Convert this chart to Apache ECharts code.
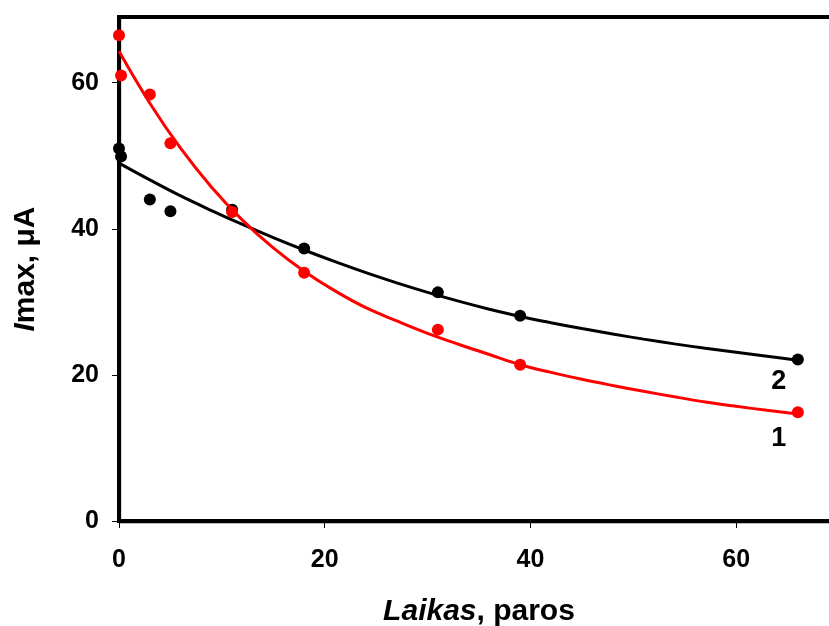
<!DOCTYPE html>
<html>
<head>
<meta charset="utf-8">
<script src="https://cdn.jsdelivr.net/npm/echarts@6/dist/echarts.min.js"></script>
<style>
html,body{margin:0;padding:0;background:#fff;}
#chart{width:829px;height:626px;}
</style>
</head>
<body>
<div id="chart"></div>
<script>
// Measured points (x: days, y: Imax µA)
const red_x = [0, 0.2, 3, 5, 11, 18, 31, 39, 66];
const red_y = [66.5, 61.0, 58.4, 51.7, 42.3, 34.0, 26.2, 21.4, 14.9];
const black_x = [0, 0.2, 3, 5, 11, 18, 31, 39, 66];
const black_y = [51.0, 49.9, 44.0, 42.4, 42.6, 37.3, 31.3, 28.1, 22.1];
// Fitted curves
const fit_x = [0, 3, 6, 9, 12, 15, 18, 21, 24, 27, 30, 33, 36, 39, 42, 45, 48, 51, 54, 57, 60, 63, 66];
const redFit_y = [64.3, 57.2, 51.0, 45.7, 41.2, 37.4, 34.2, 31.5, 29.2, 27.4, 25.7, 24.2, 22.8, 21.4, 20.35, 19.4, 18.55, 17.75, 17.0, 16.3, 15.7, 15.15, 14.65];
const blackFit_y = [49.0, 46.7, 44.5, 42.5, 40.6, 38.8, 37.1, 35.5, 34.0, 32.6, 31.3, 30.1, 29.0, 28.0, 27.15, 26.35, 25.6, 24.9, 24.25, 23.65, 23.1, 22.55, 22.0];
const xTicks = [0, 20, 40, 60];
const yTicks = [0, 20, 40, 60];
const seriesNames = ['1', '2'];

const zip = (xs, ys) => xs.map((x, i) => [x, ys[i]]);
const FONT = "'Liberation Sans', Arial, sans-serif";

function pts(xs, ys, name) {
  return zip(xs, ys).map((p, i) => {
    if (i === xs.length - 1) {
      return {value: p, label: {show: true, formatter: name, position: 'bottom',
        offset: [-19, name === '1' ? 2 : -3], fontSize: 27, fontWeight: 'bold', color: '#000', opacity: 1, fontFamily: FONT}};
    }
    return p;
  });
}

const chart = echarts.init(document.getElementById('chart'), null, {renderer: 'canvas'});
chart.setOption({
  animation: false,
  backgroundColor: '#fff',
  grid: {left: 119, top: 17, width: 720, height: 504, outerBoundsMode: 'none', containLabel: false,
    show: true, borderColor: '#000', borderWidth: 4, backgroundColor: 'transparent'},
  xAxis: {
    type: 'value', min: 0, max: 70, interval: 20,
    name: '{i|Laikas}{n|, paros}', nameLocation: 'middle', nameGap: 76,
    nameTextStyle: {rich: {
      i: {fontStyle: 'italic', fontWeight: 'bold', fontSize: 30, fontFamily: FONT, color: '#000'},
      n: {fontWeight: 'bold', fontSize: 30, fontFamily: FONT, color: '#000'}}},
    axisLine: {show: true, onZero: false, lineStyle: {color: '#000', width: 3.3}},
    axisTick: {show: true, inside: false, length: 7, customValues: xTicks, lineStyle: {color: '#000', width: 1}},
    axisLabel: {customValues: xTicks, margin: 27, fontSize: 25, fontWeight: 'bold', color: '#000', fontFamily: FONT},
    splitLine: {show: false}
  },
  yAxis: {
    type: 'value', min: 0, max: 69, interval: 20,
    name: '{i|I}{n|max, μA}', nameLocation: 'middle', nameGap: 78, nameRotate: 90,
    nameTextStyle: {rich: {
      i: {fontStyle: 'italic', fontWeight: 'bold', fontSize: 30, fontFamily: FONT, color: '#000'},
      n: {fontWeight: 'bold', fontSize: 30, fontFamily: FONT, color: '#000'}}},
    axisLine: {show: true, onZero: false, lineStyle: {color: '#000', width: 3.3}},
    axisTick: {show: true, inside: false, length: 7, customValues: yTicks, lineStyle: {color: '#000', width: 1}},
    axisLabel: {customValues: yTicks, margin: 20, fontSize: 25, fontWeight: 'bold', color: '#000', fontFamily: FONT},
    splitLine: {show: false}
  },
  series: [
    {type: 'line', name: 'fit2', data: zip(fit_x, blackFit_y), smooth: 0.4, showSymbol: false,
      lineStyle: {color: '#000', width: 3}, z: 2, silent: true},
    {type: 'scatter', name: seriesNames[1], data: pts(black_x, black_y, seriesNames[1]), symbol: 'circle', symbolSize: 12,
      itemStyle: {color: '#000', opacity: 1}, z: 3},
    {type: 'line', name: 'fit1', data: zip(fit_x, redFit_y), smooth: 0.4, showSymbol: false,
      lineStyle: {color: '#ff0000', width: 3}, z: 4, silent: true},
    {type: 'scatter', name: seriesNames[0], data: pts(red_x, red_y, seriesNames[0]), symbol: 'circle', symbolSize: 12,
      itemStyle: {color: '#ff0000', opacity: 1}, z: 5}
  ]
});
</script>
</body>
</html>
